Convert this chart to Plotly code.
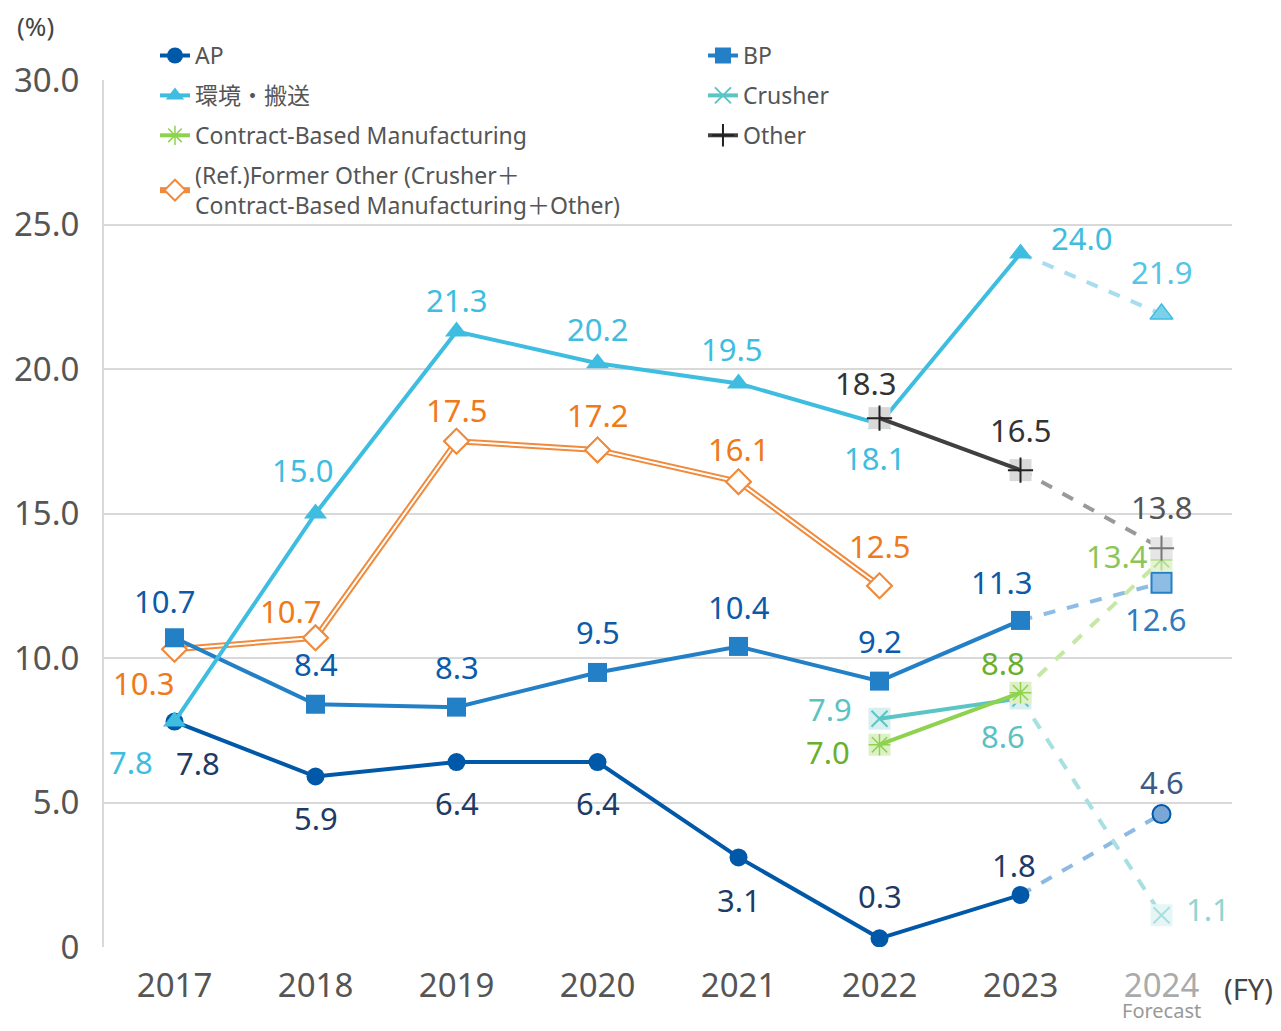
import plotly.graph_objects as go

# ---------------- data ----------------
years = [2017, 2018, 2019, 2020, 2021, 2022, 2023, 2024]
year_labels = ["2017", "2018", "2019", "2020", "2021", "2022", "2023", "2024"]
ap = [7.8, 5.9, 6.4, 6.4, 3.1, 0.3, 1.8, 4.6]
bp = [10.7, 8.4, 8.3, 9.5, 10.4, 9.2, 11.3, 12.6]
kankyo = [7.8, 15.0, 21.3, 20.2, 19.5, 18.1, 24.0, 21.9]
crusher_years = [2022, 2023, 2024]
crusher = [7.9, 8.6, 1.1]
cbm_years = [2022, 2023, 2024]
cbm = [7.0, 8.8, 13.4]
other_years = [2022, 2023, 2024]
other = [18.3, 16.5, 13.8]
former_years = [2017, 2018, 2019, 2020, 2021, 2022]
former = [10.3, 10.7, 17.5, 17.2, 16.1, 12.5]

y_ticks = [0, 5, 10, 15, 20, 25, 30]
y_ticktext = ["0", "5.0", "10.0", "15.0", "20.0", "25.0", "30.0"]

FONT = "Noto Sans, Noto Sans CJK JP, sans-serif"

# ---------------- styles ----------------
C_AP = "#0058A8"
C_BP = "#2380C6"
C_KK = "#3EBDE0"
C_CR = "#5BC4C4"
C_CBM = "#8ED24F"
C_OT = "#404040"
C_FO = "#F08A3C"

fig = go.Figure()


def add_series(name, xs, ys, color, symbol, msize, legend, fc_line, fc_marker, mline=None, bg=None, fc_bg=None):
    """solid part for actual years, dashed forecast segment to the last (forecast) point"""
    n = len(xs)
    xa, ya = xs[:n - 1], ys[:n - 1]
    xf, yf = xs[n - 2:], ys[n - 2:]
    fig.add_trace(go.Scatter(x=xf, y=yf, mode="lines", line=dict(color=fc_line, width=4, dash="dash"),
                             showlegend=False, hoverinfo="skip", legend=legend, legendgroup=name))
    if bg is not None:
        fig.add_trace(go.Scatter(x=xa, y=ya, mode="markers", marker=dict(symbol="square", size=22, color=bg),
                                 showlegend=False, hoverinfo="skip", legend=legend, legendgroup=name))
        fig.add_trace(go.Scatter(x=xf[-1:], y=yf[-1:], mode="markers",
                                 marker=dict(symbol="square", size=22, color=fc_bg),
                                 showlegend=False, hoverinfo="skip", legend=legend, legendgroup=name))
    ml = mline if mline is not None else dict(width=0)
    fig.add_trace(go.Scatter(x=xa, y=ya, mode="lines+markers", name=name, legend=legend, legendgroup=name,
                             line=dict(color=color, width=4),
                             marker=dict(symbol=symbol, size=msize, color=color, line=ml)))
    fig.add_trace(go.Scatter(x=xf[-1:], y=yf[-1:], mode="markers", marker=dict(fc_marker),
                             showlegend=False, hoverinfo="skip", legend=legend, legendgroup=name))


# Former Other (double orange line)
fig.add_trace(go.Scatter(x=former_years, y=former, mode="lines+markers", legend="legend",
                         legendgroup="former",
                         name="(Ref.)Former Other (Crusher＋<br>Contract-Based Manufacturing＋Other)",
                         line=dict(color=C_FO, width=6),
                         marker=dict(symbol="diamond", size=19, color="white", line=dict(color=C_FO, width=2))))
fig.add_trace(go.Scatter(x=former_years, y=former, mode="lines", line=dict(color="white", width=2),
                         showlegend=False, hoverinfo="skip", legendgroup="former"))
fig.add_trace(go.Scatter(x=former_years, y=former, mode="markers", showlegend=False, hoverinfo="skip",
                         legendgroup="former",
                         marker=dict(symbol="diamond", size=19, color="white", line=dict(color=C_FO, width=2))))

add_series("BP", years, bp, C_BP, "square", 19, "legend2", "#8DBDE4",
           dict(symbol="square", size=20, color="#8DBDE4", line=dict(color=C_BP, width=2)))
add_series("AP", years, ap, C_AP, "circle", 18, "legend", "#8DB9E3",
           dict(symbol="circle", size=18, color="#7BA7D6", line=dict(color=C_AP, width=2)))
add_series("環境・搬送", years, kankyo, C_KK, "triangle-up", 20, "legend", "#A8DDEF",
           dict(symbol="triangle-up", size=20, color="#7DD0EA", line=dict(color=C_KK, width=1.5)))
add_series("Crusher", crusher_years, crusher, C_CR, "x-thin", 16, "legend2", "#A6E0E0",
           dict(symbol="x-thin", size=16, color="#A6E0E0", line=dict(color="#A6E0E0", width=2)),
           mline=dict(color=C_CR, width=2), bg="#D7EFEF", fc_bg="#E6F6F6")
add_series("Contract-Based Manufacturing", cbm_years, cbm, C_CBM, "asterisk", 18, "legend", "#C5E8A5",
           dict(symbol="asterisk", size=18, color="#B5DF8E", line=dict(color="#B5DF8E", width=2)),
           mline=dict(color=C_CBM, width=1.5), bg="#DDF0C8", fc_bg="#E3F3D3")
add_series("Other", other_years, other, C_OT, "cross-thin", 18, "legend2", "#999999",
           dict(symbol="cross-thin", size=18, color="#777777", line=dict(color="#777777", width=2)),
           mline=dict(color="#222222", width=2), bg="#D9D9D9", fc_bg="#E6E6E6")

order = {"AP": 1, "環境・搬送": 2, "Contract-Based Manufacturing": 3, "former": 4,
         "BP": 1, "Crusher": 2, "Other": 3}
for tr in fig.data:
    if tr.legendgroup in order:
        tr.legendrank = order[tr.legendgroup]

# ---------------- data labels ----------------
label_specs = [
    (years, ap, ["#1E3A66"] * 7 + ["#3D5A85"],
     [(23, -41), (0, -42), (0, -41), (0, -41), (0, -43), (0, 42), (-7, 30), (0, 32)]),
    (years, bp, ["#0B5BAA"] * 7 + ["#2E7BC0"],
     [(-10, 37), (0, 40), (0, 40), (0, 40), (0, 39), (0, 40), (-19, 38), (-6, -36)]),
    (years, kankyo, [C_KK] * 7 + ["#55C4E6"],
     [(-44, -40), (-13, 44), (0, 31), (0, 34), (-7, 34), (-5, -34), (61, 15), (0, 42)]),
    (crusher_years, crusher, ["#5BC2C4", "#5BC2C4", "#8FD5D5"],
     [(-50, 10), (-18, -38), (46, 6)]),
    (cbm_years, cbm, ["#6AAF2E", "#6AAF2E", "#8CC65A"],
     [(-52, -7), (-18, 30), (-45, 4)]),
    (other_years, other, ["#333333", "#333333", "#555555"],
     [(-14, 35), (0, 40), (0, 41)]),
    (former_years, former, ["#EE7A1A"] * 6,
     [(-31, -34), (-25, 27), (0, 31), (0, 35), (0, 33), (0, 40)]),
]
annotations = []
for xs, ys, cols, offs in label_specs:
    for x, y, c, (dx, dy) in zip(xs, ys, cols, offs):
        annotations.append(dict(x=x, y=y, xref="x", yref="y", text=f"{y:.1f}", showarrow=False,
                                xanchor="center", yanchor="middle",
                                xshift=dx, yshift=dy, font=dict(size=31, color=c, family=FONT)))

annotations += [
    dict(x=-0.0603, y=1.0623, xref="paper", yref="paper", text="(%)", showarrow=False,
         xanchor="center", yanchor="middle", font=dict(size=26, color="#444444", family=FONT)),
    dict(x=0.9911, y=-0.0473, xref="paper", yref="paper", text="(FY)", showarrow=False,
         xanchor="left", yanchor="middle", font=dict(size=29, color="#444444", family=FONT)),
    dict(x=years[-1], y=-0.0738, xref="x", yref="paper", text="Forecast", showarrow=False,
         xanchor="center", yanchor="middle", font=dict(size=20, color="#999999", family=FONT)),
]

ticktext_x = year_labels[:-1] + ["<span style='color:#AAAAAA'>" + year_labels[-1] + "</span>"]

fig.update_layout(
    width=1265, height=1015,
    margin=dict(l=96, r=41, t=72, b=76, autoexpand=False),
    plot_bgcolor="white", paper_bgcolor="white",
    font=dict(family=FONT, color="#555555"),
    annotations=annotations,
    shapes=[dict(type="rect", xref="paper", yref="paper", x0=0.0204, x1=0.991, y0=0.996, y1=1.004,
                 fillcolor="white", line=dict(width=0), layer="above")],
    legend=dict(x=0.0452, y=1.053, xanchor="left", yanchor="top", bgcolor="rgba(0,0,0,0)",
                font=dict(size=23, color="#555555", family=FONT), tracegroupgap=7,
                traceorder="grouped", itemwidth=30),
    legend2=dict(x=0.531, y=1.053, xanchor="left", yanchor="top", bgcolor="rgba(0,0,0,0)",
                 font=dict(size=23, color="#555555", family=FONT), tracegroupgap=7,
                 traceorder="grouped", itemwidth=30),
    xaxis=dict(range=[2016.5, 2024.5], tickvals=years, ticktext=ticktext_x, showgrid=False,
               showline=False, zeroline=False, ticks="", ticklabelstandoff=16, automargin=False,
               tickfont=dict(size=33, color="#555555", family=FONT)),
    yaxis=dict(range=[0, 30], tickvals=y_ticks, ticktext=y_ticktext, showgrid=True,
               gridcolor="#D9D9D9", gridwidth=2, zeroline=False, showline=True, linecolor="#D9D9D9",
               linewidth=2, ticks="", ticklabelstandoff=16, automargin=False,
               tickfont=dict(size=33, color="#555555", family=FONT)),
)

fig.write_html("out.html")
